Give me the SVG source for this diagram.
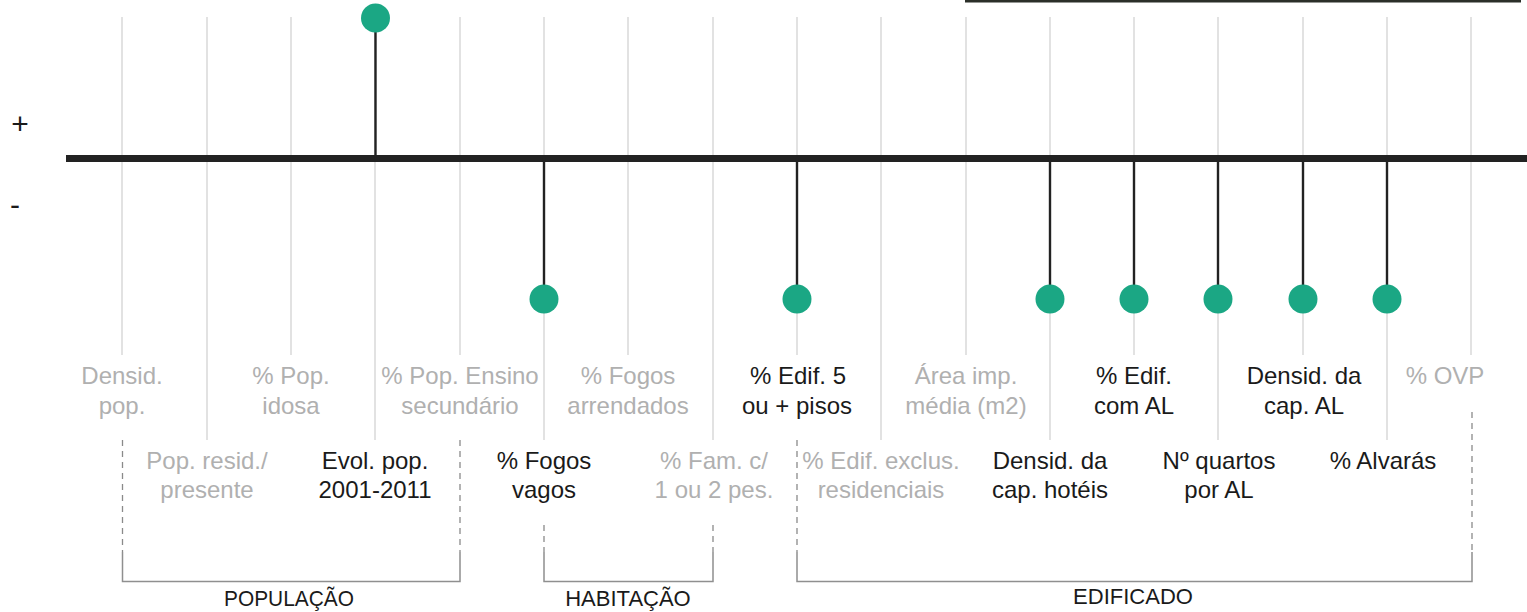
<svg xmlns="http://www.w3.org/2000/svg" width="1527" height="612" viewBox="0 0 1527 612">
<style>
text{font-family:"Liberation Sans",Arial,sans-serif;font-size:24px;text-anchor:middle}
.g{fill:#b0b0b0}
.d{fill:#1a1a1a}
.grid{stroke:#d6d6d6;stroke-width:1.4;fill:none}
.dash{stroke:#8a8a8a;stroke-width:1.3;stroke-dasharray:6 5;fill:none}
.br{stroke:#8f8f8f;stroke-width:1.5;fill:none}
.stem{stroke:#222;stroke-width:2.4}
.dot{fill:#1ba784}
.cat{font-size:22px;fill:#1a1a1a}
.sign{font-size:30px;fill:#1a1a1a}
</style>
<rect x="0" y="0" width="1527" height="612" fill="#fff"/>
<rect x="965" y="0" width="556" height="2.5" fill="#2b2f29"/>
<g id="grid">
<path class="grid" d="M122 17V355M291 17V355M460 17V355M628 17V355M797 17V355M966 17V355M1134 17V355M1303 17V355M1471 17V355"/>
<path class="grid" d="M207 17V440M375 17V440M544 17V440M713 17V440M881 17V440M1050 17V440M1218 17V440M1387 17V440"/>
</g>
<g id="axis">
<line x1="66" y1="158.5" x2="1527" y2="158.5" stroke="#222" stroke-width="7"/>
<text class="sign" x="20" y="133.5">+</text>
<text class="sign" x="15" y="215">-</text>
</g>
<g id="connectors">
<line class="stem" x1="375.5" y1="18" x2="375.5" y2="158"/>
<line class="stem" x1="544" y1="158" x2="544" y2="299"/>
<line class="stem" x1="797" y1="158" x2="797" y2="299"/>
<line class="stem" x1="1050" y1="158" x2="1050" y2="299"/>
<line class="stem" x1="1134" y1="158" x2="1134" y2="299"/>
<line class="stem" x1="1218" y1="158" x2="1218" y2="299"/>
<line class="stem" x1="1303" y1="158" x2="1303" y2="299"/>
<line class="stem" x1="1387" y1="158" x2="1387" y2="299"/>
</g>
<g id="n-densid-pop"><text class="g" x="122" y="383.5">Densid.</text><text class="g" x="122" y="413.5">pop.</text></g>
<g id="n-pop-resid"><text class="g" x="207" y="468.5">Pop. resid./</text><text class="g" x="207" y="498">presente</text></g>
<g id="n-pop-idosa"><text class="g" x="291" y="383.5">% Pop.</text><text class="g" x="291" y="413.5">idosa</text></g>
<g id="n-evol-pop"><circle class="dot" cx="375.5" cy="18" r="14.5"/><text class="d" x="375" y="468.5">Evol. pop.</text><text class="d" x="375" y="498">2001-2011</text></g>
<g id="n-pop-ensino"><text class="g" x="460" y="383.5">% Pop. Ensino</text><text class="g" x="460" y="413.5">secundário</text></g>
<g id="n-fogos-vagos"><circle class="dot" cx="544" cy="299" r="14.5"/><text class="d" x="544" y="468.5">% Fogos</text><text class="d" x="544" y="498">vagos</text></g>
<g id="n-fogos-arrendados"><text class="g" x="628" y="383.5">% Fogos</text><text class="g" x="628" y="413.5">arrendados</text></g>
<g id="n-fam"><text class="g" x="714" y="468.5">% Fam. c/</text><text class="g" x="714" y="498">1 ou 2 pes.</text></g>
<g id="n-edif-5"><circle class="dot" cx="797" cy="299" r="14.5"/><text class="d" x="798" y="383.5">% Edif. 5</text><text class="d" x="797" y="413.5">ou + pisos</text></g>
<g id="n-edif-exclus"><text class="g" x="881" y="468.5">% Edif. exclus.</text><text class="g" x="881" y="498">residenciais</text></g>
<g id="n-area-imp"><text class="g" x="966" y="383.5">Área imp.</text><text class="g" x="966" y="413.5">média (m2)</text></g>
<g id="n-cap-hoteis"><circle class="dot" cx="1050" cy="299" r="14.5"/><text class="d" x="1050" y="468.5">Densid. da</text><text class="d" x="1050" y="498">cap. hotéis</text></g>
<g id="n-edif-al"><circle class="dot" cx="1134" cy="299" r="14.5"/><text class="d" x="1134" y="383.5">% Edif.</text><text class="d" x="1134" y="413.5">com AL</text></g>
<g id="n-quartos"><circle class="dot" cx="1218" cy="299" r="14.5"/><text class="d" x="1219" y="468.5">Nº quartos</text><text class="d" x="1219" y="498">por AL</text></g>
<g id="n-cap-al"><circle class="dot" cx="1303" cy="299" r="14.5"/><text class="d" x="1304" y="383.5">Densid. da</text><text class="d" x="1304" y="413.5">cap. AL</text></g>
<g id="n-alvaras"><circle class="dot" cx="1387" cy="299" r="14.5"/><text class="d" x="1383" y="468.5">% Alvarás</text></g>
<g id="n-ovp"><text class="g" x="1445" y="383.5">% OVP</text></g>
<g id="brackets">
<path class="dash" d="M122.5 440V552M460 440V552M544 525V552M713 525V552M797 440V552M1472 412V552"/>
<path class="br" d="M122.5 552V581.5H460V552M544 552V581.5H713V552M797 552V581.5H1472V552"/>
<text class="cat" x="289" y="606" textLength="130" lengthAdjust="spacingAndGlyphs">POPULAÇÃO</text>
<text class="cat" x="628" y="606">HABITAÇÃO</text>
<text class="cat" x="1133" y="604">EDIFICADO</text>
</g>
</svg>
